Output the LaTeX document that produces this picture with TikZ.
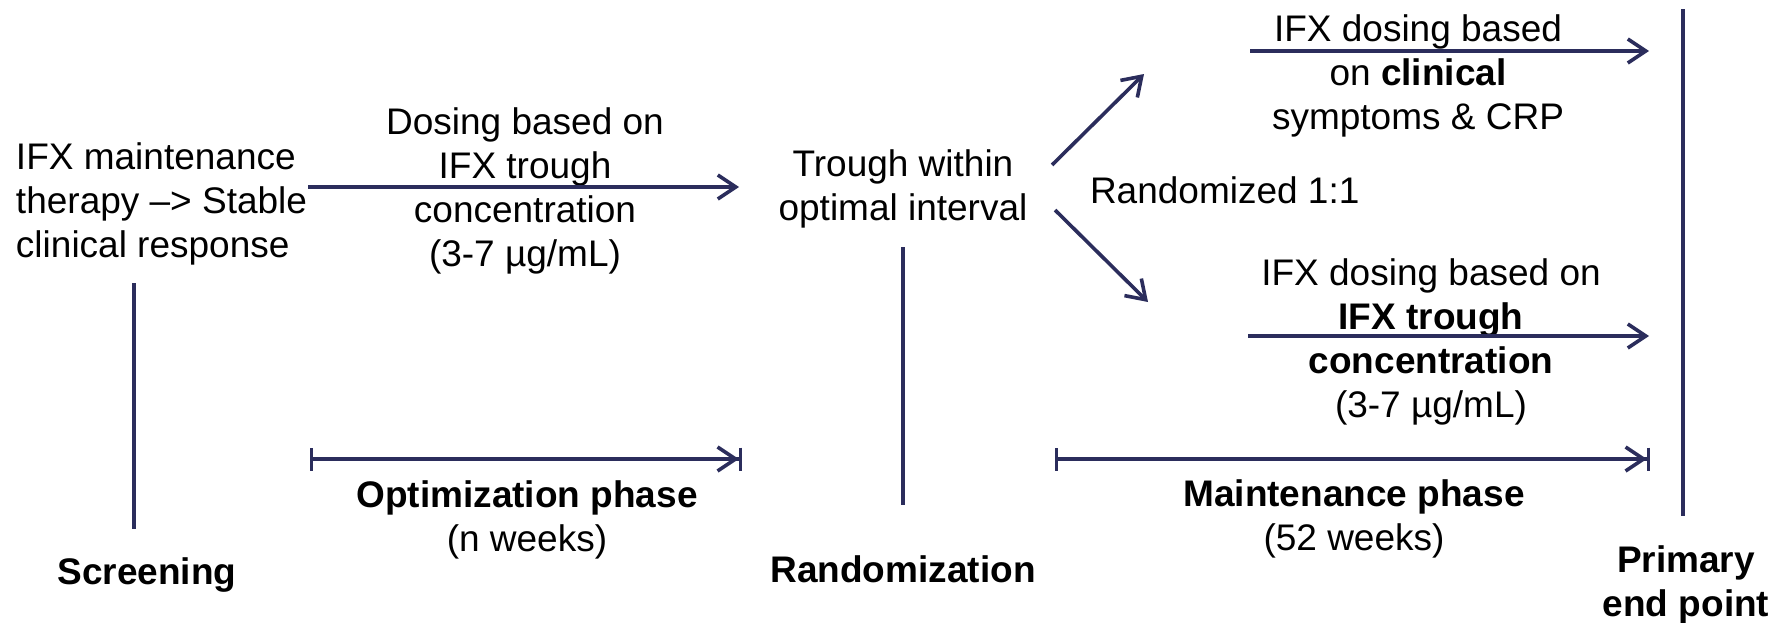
\documentclass[tikz,border=0pt]{standalone}
\usepackage{fontspec}
\setmainfont{Liberation Sans}
\usetikzlibrary{arrows.meta}
\definecolor{navy}{RGB}{43,45,92}
\begin{document}
\begin{tikzpicture}[x=0.5pt,y=-0.5pt,
  every node/.style={inner sep=0pt,outer sep=0pt,font=\fontsize{18.5pt}{22pt}\selectfont,align=center},
  conn/.style={draw=navy,line width=1.8pt,-{Straight Barb[length=9pt,width=12pt,line width=1.8pt]}},
  vline/.style={draw=navy,line width=1.8pt},
  span/.style={draw=navy,line width=1.8pt,{Bar[width=11.5pt,line width=1.6pt]}-{Straight Barb[length=9pt,width=12pt,line width=1.8pt]Bar[width=11.5pt,line width=1.6pt,sep=0pt]}},
  lbl/.style={font=\fontsize{18.5pt}{22pt}\selectfont\bfseries}]
\useasboundingbox (0,0) rectangle (1776,622);

% texts
\node[anchor=west,align=left] (ifx) at (16,204) {IFX maintenance\\therapy –> Stable\\clinical response};
\node (dose) at (525,191) {Dosing based on\\IFX trough\\concentration\\(3-7 µg/mL)};
\node (trough) at (903,189) {Trough within\\optimal interval};
\node[lbl] (scr) at (147,575) {Screening};
\node[lbl] (rnd) at (903,569) {Randomization};
\node (opt) at (527,520) {\textbf{Optimization phase}\\(n weeks)};
\node[anchor=west] (r11) at (1090,190) {Randomized 1:1};
\node (clin) at (1418,76) {IFX dosing based\\on \textbf{clinical}\\symptoms \& CRP};
\node (tdm) at (1431,342) {IFX dosing based on\\\textbf{IFX trough}\\\textbf{concentration}\\(3-7 µg/mL)};
\node (maint) at (1354,519) {\textbf{Maintenance phase}\\(52 weeks)};
\node[lbl] (prim) at (1686,585) {Primary\\end point};

% coordinates
\coordinate (a1s) at (308,187);
\coordinate (a1e) at (739,187);
\coordinate (v1t) at (903,247);
\coordinate (v1b) at (903,505);
\coordinate (v0t) at (134,283);
\coordinate (v0b) at (134,529);
\coordinate (o1) at (310,459);
\coordinate (o2) at (742,459);
\coordinate (du1) at (1052,165);
\coordinate (du2) at (1144,74);
\coordinate (dd1) at (1055,210);
\coordinate (dd2) at (1148,302);
\coordinate (t1) at (1250,51);
\coordinate (t2) at (1649,51);
\coordinate (b1) at (1248,336);
\coordinate (b2) at (1649,336);
\coordinate (m1) at (1055,459);
\coordinate (m2) at (1650,459);
\coordinate (vrt) at (1683,9);
\coordinate (vrb) at (1683,516);

% connectors
\draw[conn] (a1s) -- (a1e);
\draw[vline] (v1t) -- (v1b);
\draw[vline] (v0t) -- (v0b);
\draw[span] (o1) -- (o2);
\draw[conn] (du1) -- (du2);
\draw[conn] (dd1) -- (dd2);
\draw[conn] (t1) -- (t2);
\draw[conn] (b1) -- (b2);
\draw[span] (m1) -- (m2);
\draw[vline,line width=2pt] (vrt) -- (vrb);
\end{tikzpicture}
\end{document}
